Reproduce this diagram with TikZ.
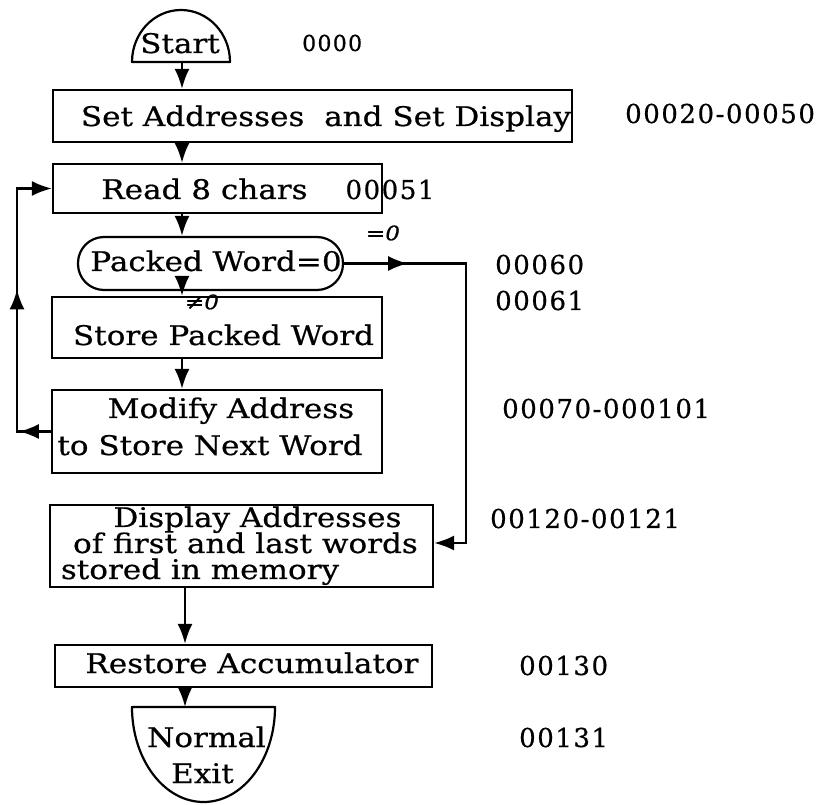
\documentclass[tikz,border=0pt]{standalone}
\usepackage{fontspec}
\setmainfont[FakeStretch=1.15,FakeBold=0.6]{DejaVu Serif}
\newfontfamily\lblfont[LetterSpace=6,FakeBold=0.6]{DejaVu Serif}
\usetikzlibrary{arrows.meta,decorations.markings}
\begin{document}
\begin{tikzpicture}[x=1pt,y=1pt,
  box/.style={draw, line width=2.2pt, rectangle, inner sep=0pt},
  txt/.style={inner sep=0pt, anchor=base, font=\fontsize{27}{32}\selectfont},
  lbl/.style={inner sep=0pt, anchor=base west, font=\lblfont\fontsize{26}{30}\selectfont},
  note/.style={inner sep=0pt, font=\itshape\fontsize{20}{24}\selectfont},
  tip/.style={-{Latex[length=20pt,width=15pt]}},
  conn/.style={line width=2.4pt},
  shapeline/.style={line width=2.2pt, line join=round}
]
\useasboundingbox (0,0) rectangle (825,804);

% axis coordinates
\coordinate (ax) at (182,0);
\coordinate (bx) at (185,0);

% Start terminal
\draw[shapeline] (132,742) arc[start angle=180, end angle=0, x radius=49, y radius=52] -- cycle;
\node[txt] (start) at (180,751) {Start};
\coordinate (startb) at (182,742);
\node[lbl, font=\lblfont\fontsize{22}{26}\selectfont] (l0) at (302,753) {0000};

% boxes
\node[box, minimum width=519pt, minimum height=52pt] (box1) at (312.5,688) {};
\node[txt] (t1) at (326,678) {Set Addresses\ \ and Set Display};
\node[lbl] (l1) at (625,681) {00020-00050};

\node[box, minimum width=329pt, minimum height=49pt] (read) at (217.5,615.5) {};
\node[txt] (t2) at (204.5,605) {Read 8 chars};
\node[lbl, anchor=base] (l2) at (390,605) {00051};

\node[box, rounded corners=26pt, minimum width=265pt, minimum height=53pt] (packed) at (210.5,540.5) {};
\node[txt] (t3) at (216,533) {Packed Word=0};
\node[lbl] (l3) at (495,530) {00060};
\node[lbl] (l4) at (495,494) {00061};

\node[box, minimum width=330pt, minimum height=61pt] (store) at (217,476.5) {};
\node[txt] (t4) at (223.5,459) {Store Packed Word};

\node[box, minimum width=330pt, minimum height=83pt] (modify) at (217,372.5) {};
\node[txt] (t5a) at (231,386) {Modify Address};
\node[txt] (t5b) at (210,349) {to Store Next Word};
\node[lbl] (l5) at (502,386) {00070-000101};

\node[box, minimum width=383pt, minimum height=82pt] (display) at (241.5,258) {};
\node[txt] (t6a) at (257.5,277) {Display Addresses};
\node[txt] (t6b) at (245.5,251) {of first and last words};
\node[txt] (t6c) at (200,225) {stored in memory};
\node[lbl] (l6) at (490,276) {00120-00121};

\node[box, minimum width=377pt, minimum height=42pt] (restore) at (243.5,138) {};
\node[txt] (t7) at (252,131) {Restore Accumulator};
\node[lbl] (l7) at (519,129) {00130};

% Normal Exit terminal
\draw[shapeline] (132,97) -- (275,97) arc[start angle=0, end angle=-180, x radius=71.5, y radius=95] -- cycle;
\node[txt] (t8a) at (206.5,57) {Normal};
\node[txt] (t8b) at (202.5,21) {Exit};
\coordinate (exitt) at (185,97);
\node[lbl] (l8) at (519,57) {00131};

% main flow
\draw[conn, tip] (startb) -- (box1.north -| ax);
\draw[conn, tip] (box1.south -| ax) -- (read.north -| ax);
\draw[conn, tip] (read.south -| ax) -- (packed.north -| ax);
\draw[conn, tip] (packed.south -| ax) -- (store.north -| ax);
\draw[conn, tip] (store.south -| ax) -- (modify.north -| ax);
\draw[conn, tip] (display.south -| bx) -- (restore.north -| bx);
\draw[conn, tip] (restore.south -| bx) -- (exitt);

% loop back
\coordinate (lb) at (17,372.5);
\coordinate (lt) at (17,615.5);
\draw[conn, tip, postaction={decorate, decoration={markings,
   mark=at position 32pt with {\arrow{Latex[length=20pt,width=15pt]}},
   mark=at position 176pt with {\arrow{Latex[length=20pt,width=15pt]}}}}]
  (modify.west) -- (lb) -- (lt) -- (read.west);

% =0 branch
\coordinate (rt) at (466,540.5);
\coordinate (rb) at (466,261);
\draw[conn, tip, postaction={decorate, decoration={markings,
   mark=at position 64pt with {\arrow{Latex[length=20pt,width=15pt]}}}}]
  (packed.east) -- (rt) -- (rb) -- (rb -| display.east);

\node[note] (eq) at (383,571) {=0};
\node[note] (neq) at (202,502) {≠0};
\end{tikzpicture}
\end{document}
